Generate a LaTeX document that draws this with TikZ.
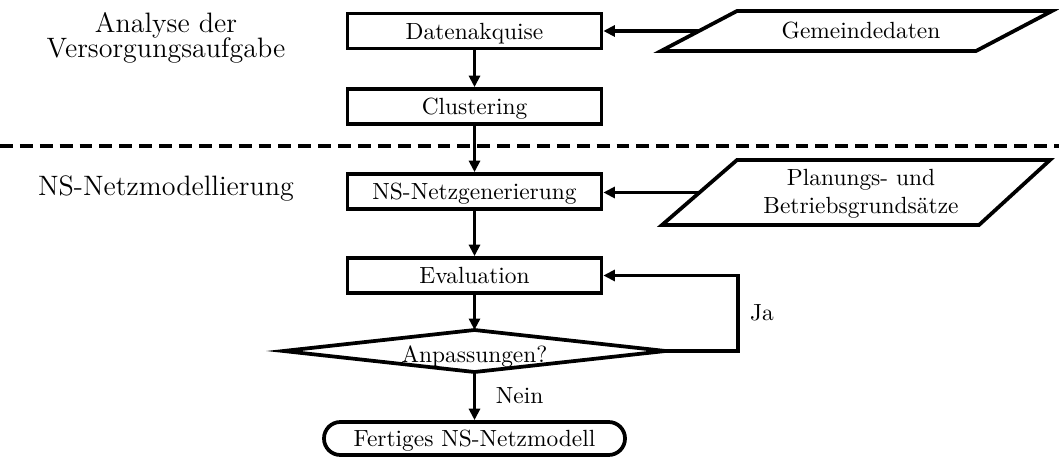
\documentclass[tikz,border=0pt]{standalone}
\usetikzlibrary{arrows.meta}
\newlength\pxu
\setlength\pxu{0.4274pt}
\begin{document}
\begin{tikzpicture}[x=\pxu, y=-\pxu,
  stepbox/.style={draw, line width=1.6pt, minimum width=254\pxu,
    minimum height=35\pxu, inner sep=0pt, text height=8pt, text depth=1pt},
  plaintext/.style={inner sep=0pt, align=center},
  outline/.style={draw, line width=1.6pt, line join=miter},
  terminal/.style={draw, rounded corners=7pt, line width=1.6pt,
    minimum width=301\pxu, minimum height=33\pxu, inner sep=0pt,
    text height=8pt, text depth=1pt},
  flow/.style={line width=1.6pt, -{Triangle[length=4.9pt,width=4.7pt]}},
  phase/.style={font=\large, align=center},
  sepline/.style={line width=1.6pt, dash pattern=on 5.5pt off 3pt}]
\useasboundingbox (0,0) rectangle (1059,459);

% phase labels
\node[phase] (ana) at (166,38) {Analyse der\\[-3.6pt]Versorgungsaufgabe};
\node[phase] (mod) at (166,188) {NS-Netzmodellierung};

% separator between the two phases
\coordinate (sepL) at (0,146);
\coordinate (sepR) at (1059,146);
\draw[sepline] (sepL) -- (sepR);

% process steps
\node[stepbox] (acq)  at (474.5,31)    {Datenakquise};
\node[stepbox] (clu)  at (474.5,106.5) {Clustering};
\node[stepbox] (gen)  at (474.5,191.5) {NS-Netzgenerierung};
\node[stepbox] (eval) at (474.5,275.5) {Evaluation};
\node[terminal] (done) at (474.5,438.5) {Fertiges NS-Netzmodell};

% decision diamond
\coordinate (adjT) at (474.5,330);
\coordinate (adjR) at (665.5,351);
\coordinate (adjB) at (474.5,372);
\coordinate (adjL) at (283.5,351);
\draw[outline] (adjT) -- (adjR) -- (adjB) -- (adjL) -- cycle;
\node[plaintext] (adj) at (474.5,357) {Anpassungen?};

% inputs (data parallelograms)
\node[plaintext] (mun) at (861,31) {Gemeindedaten};
\draw[outline] (737,11) -- (1052,11) -- (976,51) -- (661,51) -- cycle;
\coordinate (munin) at (699,31);

\node[plaintext] (rules) at (861,194) {Planungs- und\\Betriebsgrundsätze};
\draw[outline] (737,160) -- (1050,160) -- (979,225) -- (662,225) -- cycle;
\coordinate (rulesin) at (699.5,192.5);

% main flow
\draw[flow] (acq) -- (clu);
\draw[flow] (clu) -- (gen);
\draw[flow] (gen) -- (eval);
\draw[flow] (eval) -- (adjT);
\draw[flow] (adjB) -- node[midway, right=5pt] (no) {Nein} (done);

% input arrows
\draw[flow] (munin) -- (munin -| acq.east);
\draw[flow] (rulesin) -- (rulesin -| gen.east);

% loop back for further adjustments
\coordinate (turn) at (738,351);
\draw[flow] (adjR) -- (turn) |- node[pos=0.25, right=1pt] (yes) {Ja} (eval.east);
\end{tikzpicture}
\end{document}
